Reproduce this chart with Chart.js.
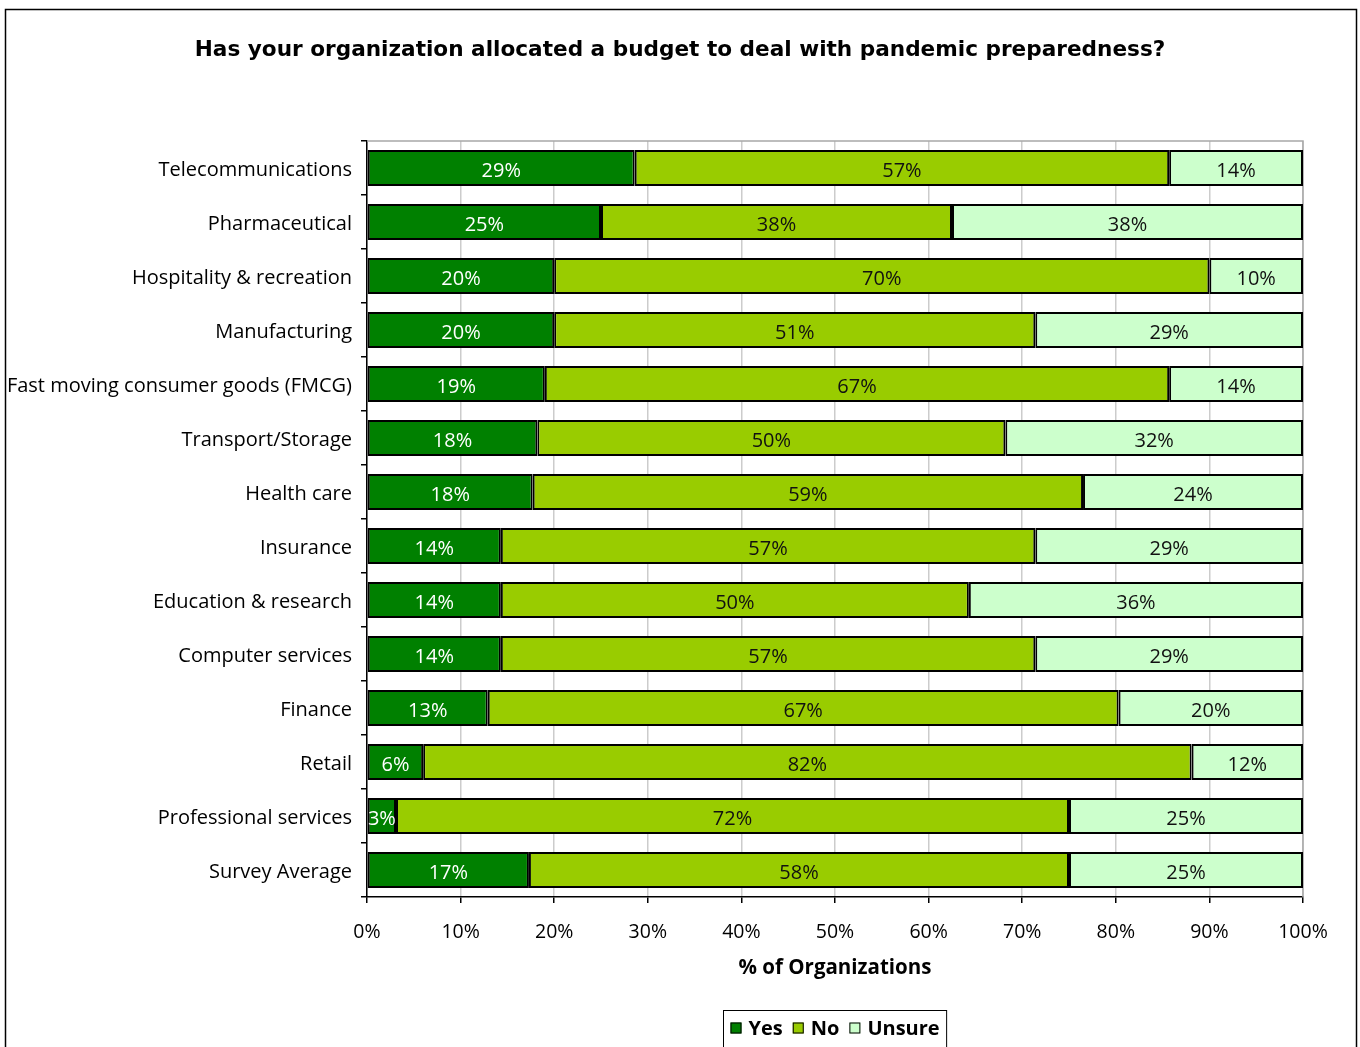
<!DOCTYPE html>
<html>
<head>
<meta charset="utf-8">
<script src="https://cdn.jsdelivr.net/npm/chart.js@4"></script>
<style>
  html, body { margin: 0; padding: 0; background: #fff; }
  #wrap { width: 1360px; height: 1047px; }
</style>
</head>
<body>
<div id="wrap"><canvas id="myChart" width="1360" height="1047"></canvas></div>
<script>
const FONT = "'Open Sans', 'DejaVu Sans', sans-serif";
const TITLE_FONT = "'DejaVu Sans', sans-serif";

const categories = [
  "Telecommunications", "Pharmaceutical", "Hospitality & recreation",
  "Manufacturing", "Fast moving consumer goods (FMCG)", "Transport/Storage",
  "Health care", "Insurance", "Education & research", "Computer services",
  "Finance", "Retail", "Professional services", "Survey Average"
];
const yesValues    = [28.6, 25.0, 20.0, 20.0, 19.0, 18.2, 17.7, 14.3, 14.3, 14.3, 12.9,  6.0,  3.1, 17.3];
const noValues     = [57.1, 37.5, 70.0, 51.4, 66.7, 50.0, 58.8, 57.1, 50.0, 57.1, 67.4, 82.1, 71.9, 57.7];
const unsureValues = [14.3, 37.5, 10.0, 28.6, 14.3, 31.8, 23.5, 28.6, 35.7, 28.6, 19.7, 11.9, 25.0, 25.0];
const xTicks = [0, 10, 20, 30, 40, 50, 60, 70, 80, 90, 100];

const seriesNames = ["Yes", "No", "Unsure"];
const seriesColors = ["#008000", "#99cc00", "#ccffcc"];
const labelColors = ["#ffffff", "#111111", "#111111"];

/* outer frame, top/right plot border, bar labels and boxed legend */
const decor = {
  id: "decor",
  beforeDraw(chart) {
    const ctx = chart.ctx;
    ctx.save();
    ctx.fillStyle = "#fff";
    ctx.fillRect(0, 0, chart.width, chart.height);
    ctx.strokeStyle = "#000";
    ctx.lineWidth = 1.5;
    ctx.strokeRect(5.5, 9.5, 1351, 1200);
    ctx.restore();
  },
  beforeDatasetsDraw(chart) {
    const { ctx, chartArea: a } = chart;
    ctx.save();
    ctx.strokeStyle = "#a8a8a8";
    ctx.lineWidth = 1.5;
    ctx.beginPath();
    ctx.moveTo(a.left, a.top);
    ctx.lineTo(a.right, a.top);
    ctx.lineTo(a.right, a.bottom);
    ctx.stroke();
    ctx.restore();
  },
  afterDatasetsDraw(chart) {
    const ctx = chart.ctx;
    ctx.save();
    ctx.font = "20px " + FONT;
    ctx.textAlign = "center";
    ctx.textBaseline = "middle";
    chart.data.datasets.forEach((ds, i) => {
      const meta = chart.getDatasetMeta(i);
      meta.data.forEach((bar, j) => {
        const p = bar.getProps(["x", "y", "base"], true);
        ctx.fillStyle = labelColors[i];
        ctx.fillText(Math.round(ds.data[j]) + "%", (p.x + p.base) / 2, p.y + 3);
      });
    });
    ctx.restore();
  },
  afterDraw(chart) {
    const { ctx, chartArea: a } = chart;
    ctx.save();
    ctx.font = "bold 20px " + FONT;
    ctx.textBaseline = "middle";
    const box = 11, gapBox = 7, gapItem = 10;
    const widths = seriesNames.map(n => ctx.measureText(n).width);
    let total = 14;
    widths.forEach((w, i) => { total += box + gapBox + w + (i < widths.length - 1 ? gapItem : 0); });
    const cx = (a.left + a.right) / 2;
    const left = Math.round(cx - total / 2) + 0.5;
    const top = 1010.5, cy = 1028;
    ctx.strokeStyle = "#000";
    ctx.lineWidth = 1;
    ctx.strokeRect(left, top, total, 60);
    let x = left + 7;
    seriesNames.forEach((n, i) => {
      ctx.fillStyle = seriesColors[i];
      ctx.fillRect(x, cy - box / 2, box, box);
      ctx.strokeStyle = "#000";
      ctx.strokeRect(x + 0.5, cy - box / 2 + 0.5, box - 1, box - 1);
      x += box + gapBox;
      ctx.fillStyle = "#000";
      ctx.fillText(n, x, cy + 1);
      x += widths[i] + gapItem;
    });
    ctx.restore();
  }
};

const datasets = [yesValues, noValues, unsureValues].map((vals, i) => ({
  label: seriesNames[i],
  data: vals,
  backgroundColor: seriesColors[i],
  borderColor: "#000",
  borderWidth: 2,
  borderSkipped: false,
  barPercentage: 0.667,
  categoryPercentage: 1
}));

const ctx = document.getElementById("myChart").getContext("2d");
const chart = new Chart(ctx, {
  type: "bar",
  data: { labels: categories, datasets: datasets },
  options: {
    indexAxis: "y",
    responsive: false,
    animation: false,
    layout: { padding: { left: 0, right: 0, top: 0, bottom: 63 } },
    plugins: {
      legend: { display: false },
      tooltip: { enabled: false },
      title: {
        display: true,
        text: "Has your organization allocated a budget to deal with pandemic preparedness?",
        color: "#000",
        font: { family: TITLE_FONT, size: 21.6, weight: "bold" },
        padding: { top: 37, bottom: 78 }
      }
    },
    scales: {
      x: {
        stacked: true,
        min: 0,
        max: 100,
        afterBuildTicks: s => { s.ticks = xTicks.map(v => ({ value: v })); },
        afterFit: s => { s.height = 87; },
        ticks: {
          color: "#000",
          font: { family: FONT, size: 19.5 },
          padding: 18,
          maxRotation: 0,
          callback: v => v + "%"
        },
        grid: { color: "#cccccc", lineWidth: 1.5, tickColor: "#000", tickLength: 6 },
        border: { color: "#000", width: 1.5 },
        title: {
          display: true,
          text: "% of Organizations",
          color: "#000",
          font: { family: FONT, size: 20.5, weight: "bold" },
          padding: { top: 0, bottom: 4 }
        }
      },
      y: {
        stacked: true,
        afterFit: s => { s.width = 367; },
        ticks: {
          color: "#000",
          font: { family: FONT, size: 20 },
          padding: 9,
          labelOffset: 2
        },
        grid: { drawOnChartArea: false, offset: true, tickColor: "#000", tickLength: 6, lineWidth: 1.5 },
        border: { color: "#000", width: 1.5 }
      },
      // empty right-hand gutter so the plot ends at the same place while the title spans the full width
      gutter: {
        type: "category",
        position: "right",
        afterFit: s => { s.width = 57; },
        ticks: { display: false },
        grid: { display: false },
        border: { display: false }
      }
    }
  },
  plugins: [decor]
});
</script>
</body>
</html>
